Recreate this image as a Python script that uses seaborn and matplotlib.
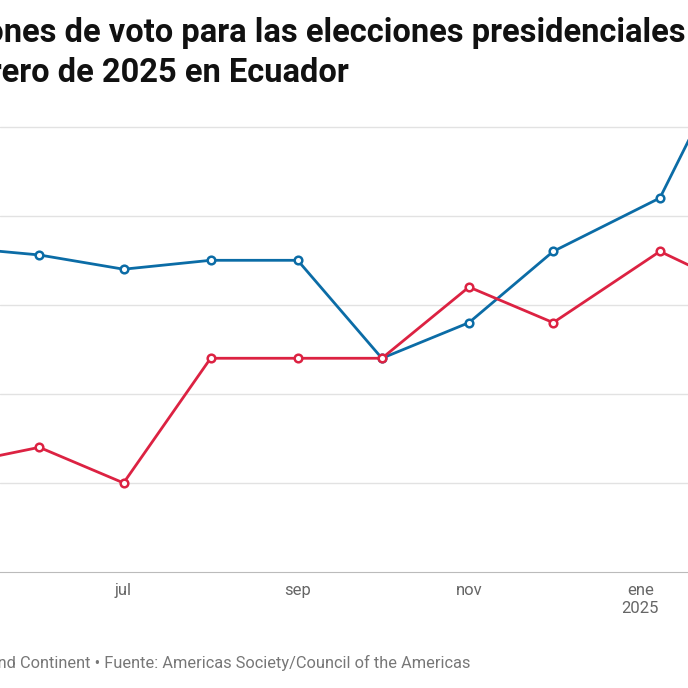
import pandas as pd
import matplotlib.pyplot as plt
import seaborn as sns

# Poll dates and values
dates = ["2024-05-01", "2024-06-01", "2024-07-01", "2024-08-01", "2024-09-01",
         "2024-10-01", "2024-11-01", "2024-12-01", "2025-01-08", "2025-01-30"]
blue_vals = [36.5, 35.6, 34.0, 35.0, 35.0, 24.0, 28.0, 36.0, 42.0, 55.9]
red_vals = [12.0, 14.0, 10.0, 24.0, 24.0, 24.0, 32.0, 28.0, 36.0, 32.7]
tick_dates = ["2024-07-01", "2024-09-01", "2024-11-01", "2025-01-01"]
tick_labels = ["jul", "sep", "nov", "ene\n2025"]

df = pd.DataFrame({"fecha": pd.to_datetime(dates).tolist() * 2,
                   "valor": blue_vals + red_vals,
                   "serie": ["azul"] * len(dates) + ["rojo"] * len(dates)})

sns.set_style("white")
plt.rcParams["font.family"] = ["Roboto", "DejaVu Sans"]

fig = plt.figure(figsize=(6.88, 6.88), dpi=100)
ax = fig.add_axes([0, 116 / 688, 1, 472 / 688])

sns.lineplot(data=df, x="fecha", y="valor", hue="serie",
             palette={"azul": "#0b6ca6", "rojo": "#dc2242"},
             marker="o", markersize=5.5, markerfacecolor="white",
             markeredgewidth=1.8, linewidth=2.0, legend=False, ax=ax)
for line in ax.lines:
    line.set_markeredgecolor(line.get_color())

ax.set_xlim(pd.Timestamp("2024-05-18"), pd.Timestamp("2025-01-18"))
ax.set_ylim(0, 53)
ax.set_yticks([10, 20, 30, 40, 50])
ax.grid(axis="y", color="#e2e2e2", linewidth=1)
ax.set_yticklabels([])
ax.tick_params(axis="y", length=0)
ax.set_xticks(pd.to_datetime(tick_dates))
ax.set_xticklabels(tick_labels, color="#666666", fontsize=12)
ax.tick_params(axis="x", length=0, pad=8)
for s in ["top", "left", "right"]:
    ax.spines[s].set_visible(False)
ax.spines["bottom"].set_color("#bbbbbb")
ax.set_xlabel("")
ax.set_ylabel("")

fig.text(686 / 688, 1 - 42 / 688,
         "Intenciones de voto para las elecciones presidenciales",
         ha="right", fontsize=23.5, fontweight="bold", color="#111111")
fig.text(-58 / 688, 1 - 82 / 688, "febrero de 2025 en Ecuador",
         ha="left", fontsize=23.5, fontweight="bold", color="#111111")
fig.text(470 / 688, 1 - 668 / 688,
         "Gráfico: Americas Quarterly/Around Continent • Fuente: Americas Society/Council of the Americas",
         ha="right", fontsize=11.8, color="#777777")

fig.savefig("out.png", dpi=100)
